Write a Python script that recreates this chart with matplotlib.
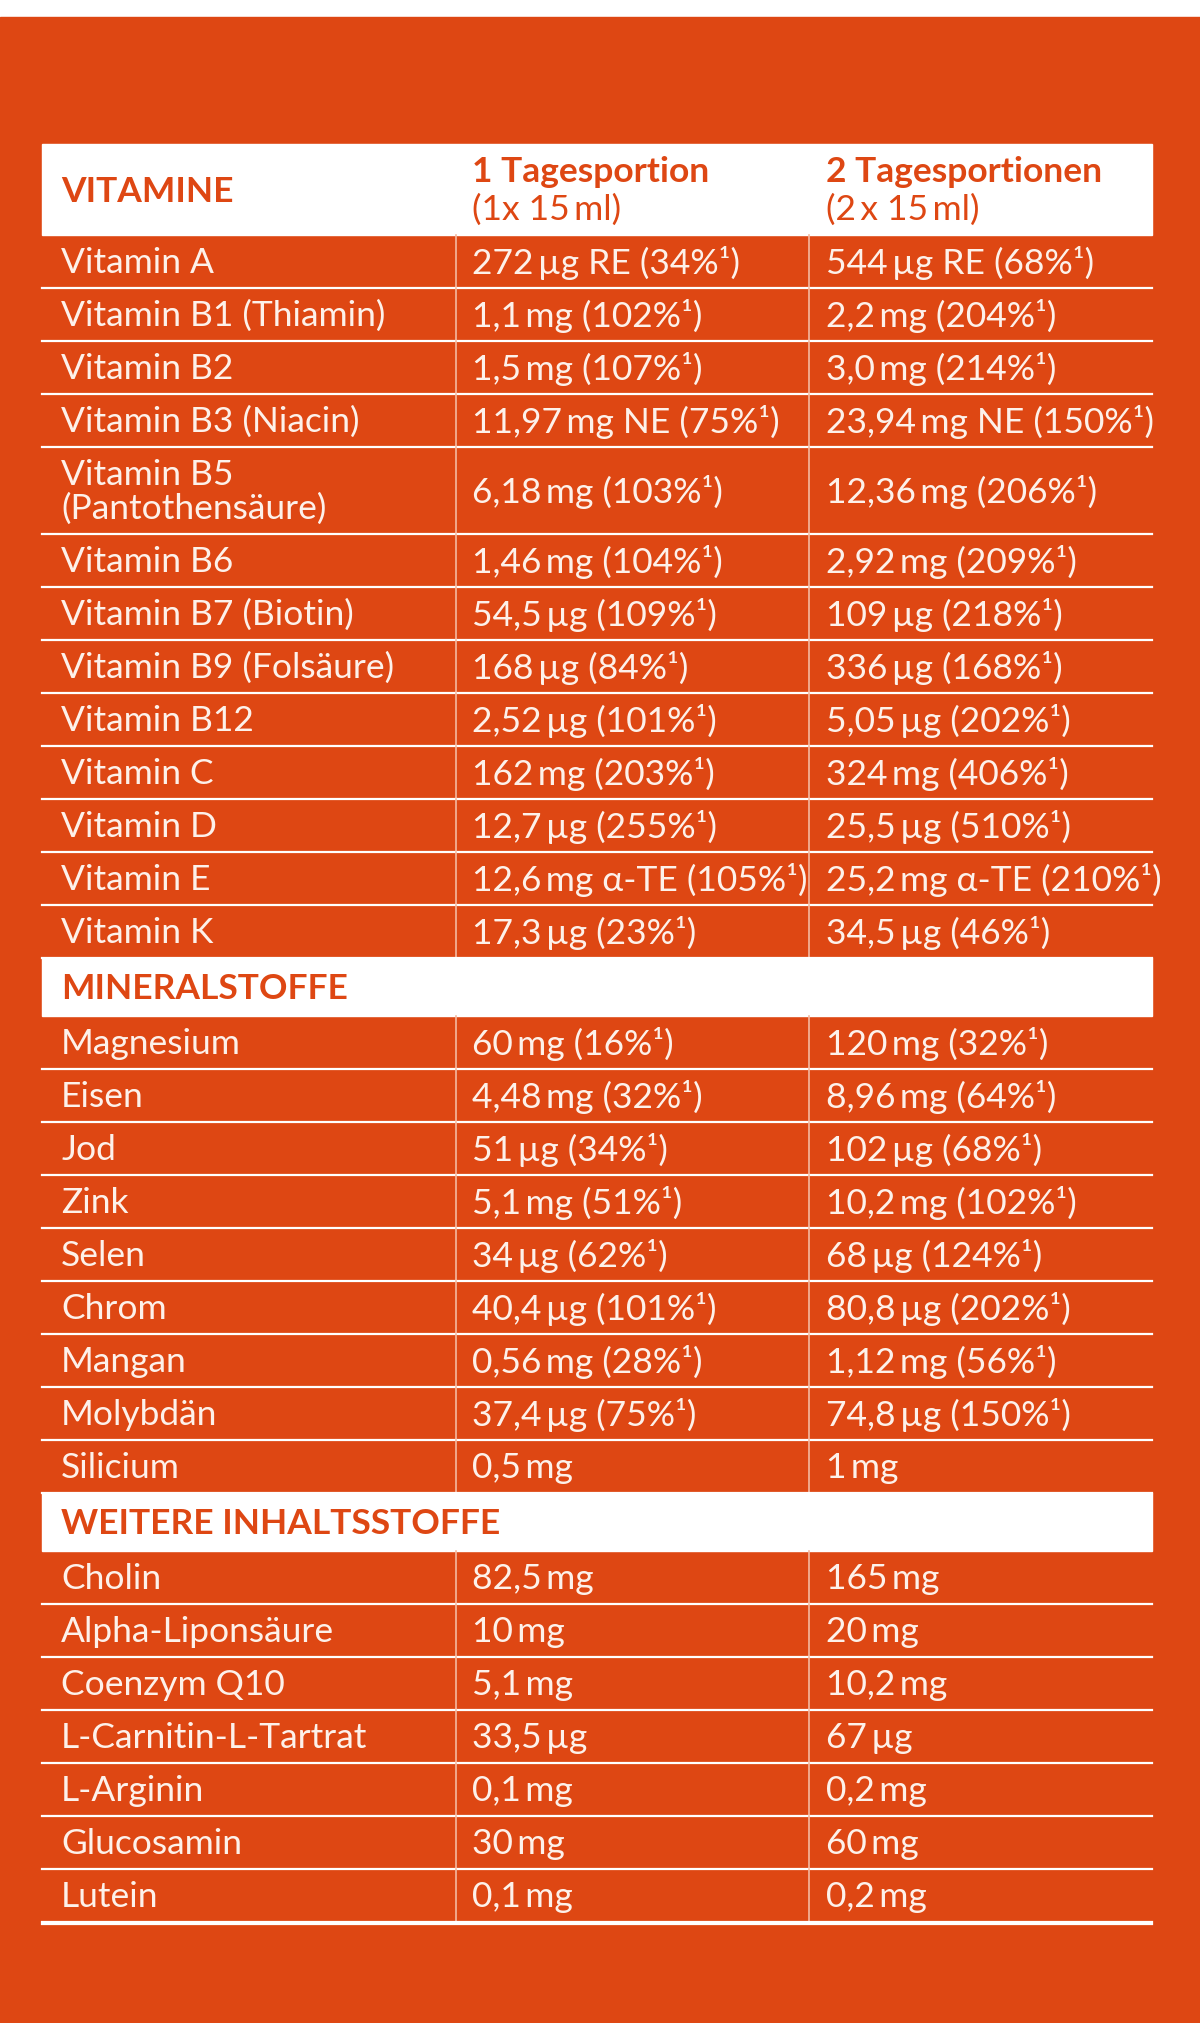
import matplotlib
matplotlib.use("Agg")
import matplotlib.pyplot as plt
from matplotlib.patches import Rectangle

ORANGE = "#DE4713"
WHITE = "#FFFFFF"
TXT = "#FDF1EA"

header_cols = ["1 Tagesportion", "2 Tagesportionen"]
header_sub = ["(1x 15\u2009ml)", "(2\u2009x 15\u2009ml)"]

sections = ["VITAMINE", "MINERALSTOFFE", "WEITERE INHALTSSTOFFE"]

vit_names = ["Vitamin A", "Vitamin B1 (Thiamin)", "Vitamin B2", "Vitamin B3 (Niacin)",
             "Vitamin B5\n(Pantothensäure)", "Vitamin B6", "Vitamin B7 (Biotin)",
             "Vitamin B9 (Folsäure)", "Vitamin B12", "Vitamin C", "Vitamin D",
             "Vitamin E", "Vitamin K"]
vit_one = ["272\u2009µg RE (34%¹)", "1,1\u2009mg (102%¹)", "1,5\u2009mg (107%¹)", "11,97\u2009mg NE (75%¹)",
           "6,18\u2009mg (103%¹)", "1,46\u2009mg (104%¹)", "54,5\u2009µg (109%¹)", "168\u2009µg (84%¹)",
           "2,52\u2009µg (101%¹)", "162\u2009mg (203%¹)", "12,7\u2009µg (255%¹)", "12,6\u2009mg α-TE (105%¹)",
           "17,3\u2009µg (23%¹)"]
vit_two = ["544\u2009µg RE (68%¹)", "2,2\u2009mg (204%¹)", "3,0\u2009mg (214%¹)", "23,94\u2009mg NE (150%¹)",
           "12,36\u2009mg (206%¹)", "2,92\u2009mg (209%¹)", "109\u2009µg (218%¹)", "336\u2009µg (168%¹)",
           "5,05\u2009µg (202%¹)", "324\u2009mg (406%¹)", "25,5\u2009µg (510%¹)", "25,2\u2009mg α-TE (210%¹)",
           "34,5\u2009µg (46%¹)"]

min_names = ["Magnesium", "Eisen", "Jod", "Zink", "Selen", "Chrom", "Mangan", "Molybdän", "Silicium"]
min_one = ["60\u2009mg (16%¹)", "4,48\u2009mg (32%¹)", "51\u2009µg (34%¹)", "5,1\u2009mg (51%¹)", "34\u2009µg (62%¹)",
           "40,4\u2009µg (101%¹)", "0,56\u2009mg (28%¹)", "37,4\u2009µg (75%¹)", "0,5\u2009mg"]
min_two = ["120\u2009mg (32%¹)", "8,96\u2009mg (64%¹)", "102\u2009µg (68%¹)", "10,2\u2009mg (102%¹)", "68\u2009µg (124%¹)",
           "80,8\u2009µg (202%¹)", "1,12\u2009mg (56%¹)", "74,8\u2009µg (150%¹)", "1\u2009mg"]

oth_names = ["Cholin", "Alpha-Liponsäure", "Coenzym Q10", "L-Carnitin-L-Tartrat",
             "L-Arginin", "Glucosamin", "Lutein"]
oth_one = ["82,5\u2009mg", "10\u2009mg", "5,1\u2009mg", "33,5\u2009µg", "0,1\u2009mg", "30\u2009mg", "0,1\u2009mg"]
oth_two = ["165\u2009mg", "20\u2009mg", "10,2\u2009mg", "67\u2009µg", "0,2\u2009mg", "60\u2009mg", "0,2\u2009mg"]

W, H = 1200, 2023
fig = plt.figure(figsize=(12, 20.23), dpi=100)
ax = fig.add_axes([0, 0, 1, 1])
ax.set_xlim(0, W)
ax.set_ylim(H, 0)
ax.axis("off")
ax.add_patch(Rectangle((0, 0), W, H, color=WHITE))
ax.add_patch(Rectangle((0, 17), W, H - 17, color=ORANGE))

FONT = ["Lato", "DejaVu Sans"]
X0, X1, X2, X3 = 42, 456, 809, 1152
TX = [61, 472, 826]
RH = 53
FS = 25.5

# header
y = 144
hh = 91
ax.add_patch(Rectangle((X0, y), X3 - X0, hh, color=WHITE))
ax.text(TX[0], y + hh / 2 + 2, sections[0], color=ORANGE, fontsize=FS, fontweight="bold",
        va="center", family=FONT)
for i in range(2):
    ax.text(TX[i + 1], y + 28, header_cols[i], color=ORANGE, fontsize=FS, fontweight="bold",
            va="center", family=FONT)
    ax.text(TX[i + 1], y + 66, header_sub[i], color=ORANGE, fontsize=FS,
            va="center", family=FONT)
y += hh


def rows(y, names, one, two):
    for n, a, b in zip(names, one, two):
        h = RH * (1.65 if "\n" in n else 1)
        ax.text(TX[0], y + h / 2 + 1, n, color=TXT, fontsize=FS, va="center", family=FONT,
                linespacing=1.05)
        ax.text(TX[1], y + h / 2 + 1, a, color=TXT, fontsize=FS, va="center", family=FONT)
        ax.text(TX[2], y + h / 2 + 1, b, color=TXT, fontsize=FS, va="center", family=FONT)
        ax.plot([X1, X1], [y, y + h], color="#F4B9A0", lw=1.2)
        ax.plot([X2, X2], [y, y + h], color="#F4B9A0", lw=1.2)
        y += h
        ax.plot([X0, X3], [y, y], color=WHITE, lw=1.6)
    return y


def section(y, title):
    sh = 58
    ax.add_patch(Rectangle((X0, y), X3 - X0, sh, color=WHITE))
    ax.text(TX[0], y + sh / 2 + 2, title, color=ORANGE, fontsize=FS, fontweight="bold",
            va="center", family=FONT)
    return y + sh


y = rows(y, vit_names, vit_one, vit_two)
y = section(y, sections[1])
y = rows(y, min_names, min_one, min_two)
y = section(y, sections[2])
y = rows(y, oth_names, oth_one, oth_two)
ax.plot([X0, X3], [y + 2, y + 2], color=WHITE, lw=1.6)

fig.savefig("out.png", dpi=100)
